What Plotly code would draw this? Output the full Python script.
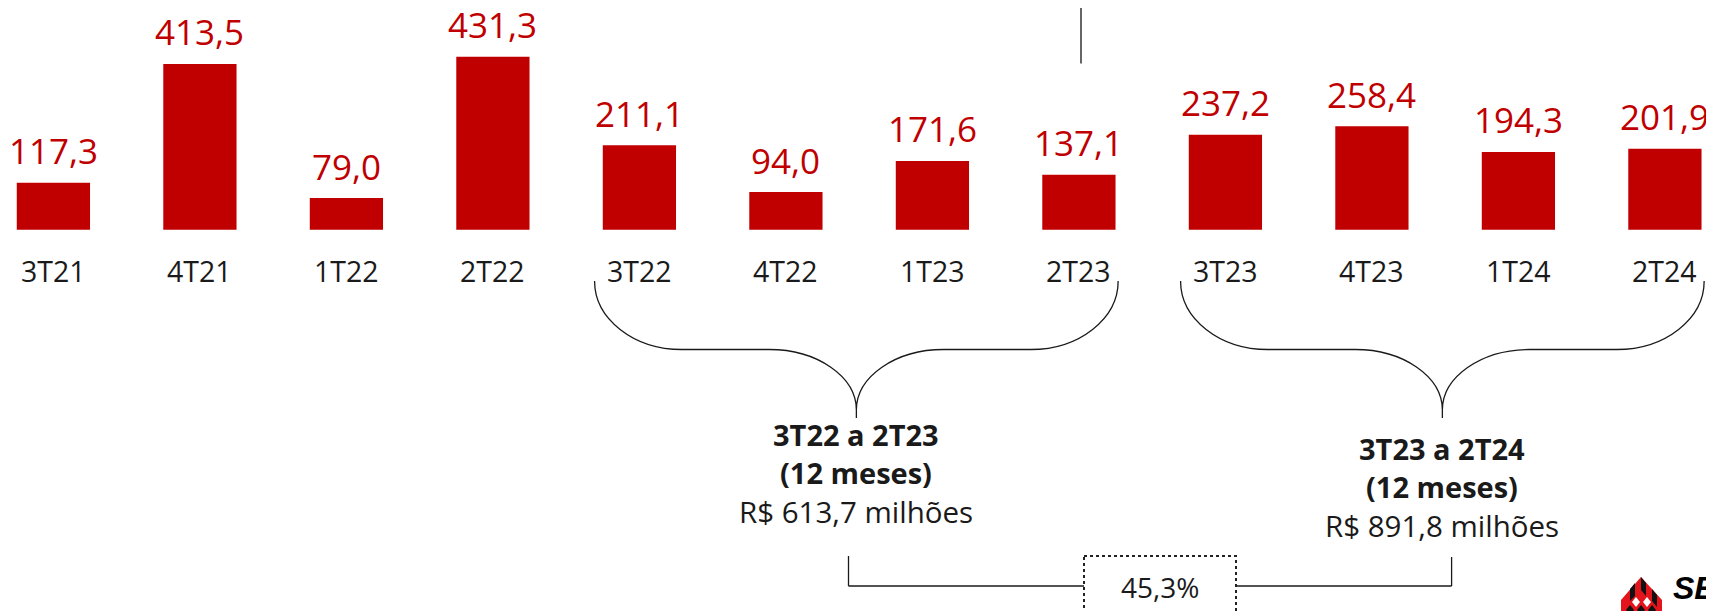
import plotly.graph_objects as go

# ---------------- data ----------------
categories = ["3T21", "4T21", "1T22", "2T22", "3T22", "4T22",
              "1T23", "2T23", "3T23", "4T23", "1T24", "2T24"]
values = [117.3, 413.5, 79.0, 431.3, 211.1, 94.0,
          171.6, 137.1, 237.2, 258.4, 194.3, 201.9]
period_titles = ["3T22 a 2T23", "3T23 a 2T24"]
period_subtitle = "(12 meses)"
period_totals = [613.7, 891.8]
period_first = [4, 8]   # index of first quarter in each 12-month window
period_last = [7, 11]   # index of last quarter
growth_pct = 45.3

# ---------------- geometry / style ----------------
PAGE_W, PAGE_H = 1714, 611
OFF = 8                               # default body margin of the html page
W, H = PAGE_W - OFF, PAGE_H - OFF     # figure size so it fits the window
X0_PX, STEP_PX = 53.4, 146.5          # page pixel centre of first category, spacing
BASE_PX, PPU = 229.8, 0.401           # page pixel row of baseline, pixels per unit
RED = "#C00000"
INK = "#1a1a1a"
FONT = "Open Sans"


def fmt(v):
    return f"{v:.1f}".replace(".", ",")


def xd(px):
    """page x pixel -> x data"""
    return (px - X0_PX) / STEP_PX


def yp(py):
    """page y pixel -> paper y"""
    return 1 - (py - OFF) / H


def xp(px):
    """page x pixel -> paper x"""
    return (px - OFF) / W


n = len(categories)
xs = list(range(n))

fig = go.Figure()
fig.add_trace(go.Bar(x=xs, y=values, width=0.5, marker_color=RED,
                     marker_line_width=0, hoverinfo="skip"))

ann = []
shapes = []

# value labels
for i, v in zip(xs, values):
    ann.append(dict(x=i, y=v, xref="x", yref="y", text=fmt(v), showarrow=False,
                    yanchor="middle", yshift=32, borderpad=0,
                    font=dict(family=FONT, size=35, color=RED)))
# category labels
for i, c in zip(xs, categories):
    ann.append(dict(x=i, y=yp(271), xref="x", yref="paper", text=c, showarrow=False,
                    yanchor="middle", font=dict(family=FONT, size=28.5, color=INK)))

# top separator line
shapes.append(dict(type="line", xref="x", yref="paper", x0=xd(1081), x1=xd(1081),
                   y0=yp(-2), y1=yp(63.5), line=dict(color="#333333", width=1.5)))

# braces
K = 0.5523
Y_TOP, Y_MID, Y_TIP, Y_STUB = 281, 349.5, 410, 418
text_tops = [434, 448]
for b, (a, z) in enumerate(zip(period_first, period_last)):
    xl = a - 0.306
    xr = z + 0.268
    xc = (xl + xr) / 2
    w = (xc - xl) / 3.0
    yt, ym, yk, ys = yp(Y_TOP), yp(Y_MID), yp(Y_TIP), yp(Y_STUB)
    path = (
        f"M {xl},{yt} "
        f"C {xl},{yt + K * (ym - yt)} {xl + w - K * w},{ym} {xl + w},{ym} "
        f"L {xc - w},{ym} "
        f"C {xc - w + K * w},{ym} {xc},{yk - K * (yk - ym)} {xc},{yk} "
        f"L {xc},{ys} M {xc},{yk} "
        f"C {xc},{yk - K * (yk - ym)} {xc + w - K * w},{ym} {xc + w},{ym} "
        f"L {xr - w},{ym} "
        f"C {xr - w + K * w},{ym} {xr},{yt + K * (ym - yt)} {xr},{yt}"
    )
    shapes.append(dict(type="path", xref="x", yref="paper", path=path,
                       line=dict(color=INK, width=1.3)))
    t0 = text_tops[b]
    ann.append(dict(x=xc, y=yp(t0), xref="x", yref="paper", showarrow=False,
                    text=f"<b>{period_titles[b]}</b>", yanchor="middle",
                    font=dict(family=FONT, size=29, color=INK)))
    ann.append(dict(x=xc, y=yp(t0 + 38.5), xref="x", yref="paper", showarrow=False,
                    text=f"<b>{period_subtitle}</b>", yanchor="middle",
                    font=dict(family=FONT, size=29, color=INK)))
    ann.append(dict(x=xc, y=yp(t0 + 77), xref="x", yref="paper", showarrow=False,
                    text=f"R$ {fmt(period_totals[b])} milhões", yanchor="middle",
                    font=dict(family=FONT, size=29.5, color=INK)))

# growth connector
box_l, box_r = xd(1084), xd(1236)
cl, cr = xd(848.5), xd(1451.6)
shapes += [
    dict(type="line", xref="x", yref="paper", x0=cl, x1=cl, y0=yp(556), y1=yp(586),
         line=dict(color=INK, width=1.3)),
    dict(type="line", xref="x", yref="paper", x0=cl, x1=box_l, y0=yp(586), y1=yp(586),
         line=dict(color=INK, width=1.3)),
    dict(type="line", xref="x", yref="paper", x0=box_r, x1=cr, y0=yp(586), y1=yp(586),
         line=dict(color=INK, width=1.3)),
    dict(type="line", xref="x", yref="paper", x0=cr, x1=cr, y0=yp(557), y1=yp(586),
         line=dict(color=INK, width=1.3)),
    dict(type="rect", xref="x", yref="paper", x0=box_l, x1=box_r, y0=yp(556), y1=yp(640),
         line=dict(color="#222222", width=2, dash="dot"), fillcolor="rgba(0,0,0,0)"),
]
ann.append(dict(x=(box_l + box_r) / 2, y=yp(587), xref="x", yref="paper", showarrow=False,
                text=f"{fmt(growth_pct)}%", yanchor="middle",
                font=dict(family=FONT, size=28, color=INK)))


# logo (partial, bottom-right)
def poly(pts, col):
    d = "M " + " L ".join(f"{xp(x)},{yp(y)}" for x, y in pts) + " Z"
    shapes.append(dict(type="path", xref="paper", yref="paper", path=d,
                       fillcolor=col, line=dict(width=0)))


poly([(1641, 577), (1662, 600), (1662, 613), (1621, 613), (1621, 600)], "#E3141B")
poly([(1641, 577), (1646, 583), (1646, 596), (1641, 590)], "#111111")
poly([(1652, 589), (1657, 595), (1657, 607), (1652, 601)], "#111111")
poly([(1630, 589), (1635, 583), (1635, 596), (1630, 601)], "#111111")
poly([(1636, 597), (1640, 602), (1636, 607), (1632, 602)], "white")
poly([(1647, 597), (1651, 602), (1647, 607), (1643, 602)], "white")
poly([(1630, 605), (1634, 610), (1630, 615), (1626, 610)], "#111111")
poly([(1641, 605), (1645, 610), (1641, 615), (1637, 610)], "#111111")
poly([(1652, 605), (1656, 610), (1652, 615), (1648, 610)], "#111111")
ann.append(dict(x=xp(1671), y=yp(588), xref="paper", yref="paper", showarrow=False,
                xanchor="left", yanchor="middle", text="<b><i>SE</i></b>",
                font=dict(family="Liberation Sans", size=32, color="#000000")))

fig.update_layout(
    width=W, height=H,
    margin=dict(l=0, r=0, t=0, b=0),
    paper_bgcolor="white", plot_bgcolor="white",
    showlegend=False,
    xaxis=dict(range=[xd(OFF), xd(PAGE_W)], visible=False, fixedrange=True),
    yaxis=dict(range=[-(PAGE_H - BASE_PX) / PPU, (BASE_PX - OFF) / PPU],
               visible=False, fixedrange=True),
    annotations=ann, shapes=shapes,
)

fig.write_html("out.html", config={"displayModeBar": False})
